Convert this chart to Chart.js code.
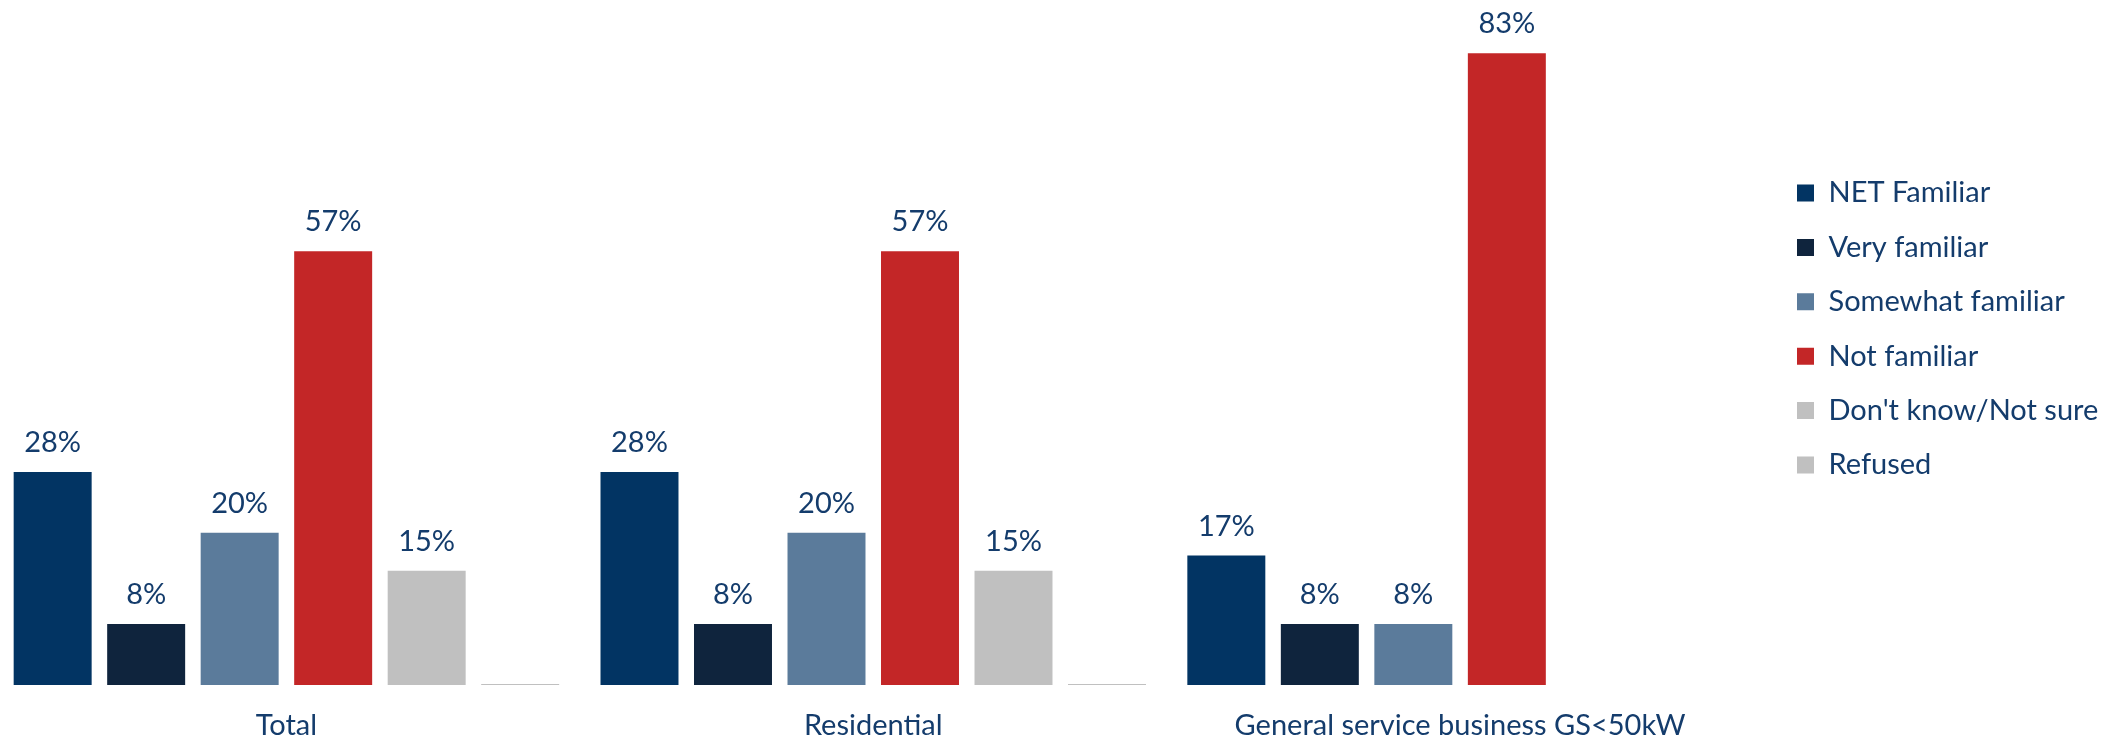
<!DOCTYPE html>
<html>
<head>
<meta charset="utf-8">
<script src="https://cdn.jsdelivr.net/npm/chart.js@4"></script>
<style>
  html, body { margin: 0; padding: 0; background: #ffffff; overflow: hidden; width: 2121px; height: 741px; }
  #wrap { position: absolute; left: -7px; top: 0; width: 2128px; height: 741px; }
</style>
</head>
<body>
<div id="wrap"><canvas id="c"></canvas></div>
<script>
// ---- data ----
const categories = ["Total", "Residential", "General service business GS<50kW"];
const seriesNames = ["NET Familiar", "Very familiar", "Somewhat familiar", "Not familiar", "Don't know/Not sure", "Refused"];
const netFamiliar      = [28, 28, 17];
const veryFamiliar     = [8, 8, 8];
const somewhatFamiliar = [20, 20, 8];
const notFamiliar      = [57, 57, 83];
const dontKnow         = [15, 15, null];
const refused          = [0, 0, null];

// ---- styles ----
const seriesColors = ["#023463", "#0F243D", "#5B7B9B", "#C32627", "#C0C0C0", "#C0C0C0"];
const textColor = "#143C6C";
const FONT = "Lato";

const seriesValues = [netFamiliar, veryFamiliar, somewhatFamiliar, notFamiliar, dontKnow, refused];

const datasets = seriesValues.map((vals, i) => ({
  label: seriesNames[i],
  data: vals,
  backgroundColor: seriesColors[i],
  borderWidth: 0,
  categoryPercentage: 0.956,
  barPercentage: 0.834,
  minBarLength: i === 5 ? 1 : 0
}));

const valueLabels = {
  id: 'valueLabels',
  afterDatasetsDraw(chart) {
    const ctx = chart.ctx;
    ctx.save();
    ctx.font = `29px ${FONT}`;
    ctx.fillStyle = textColor;
    ctx.textAlign = 'center';
    ctx.textBaseline = 'alphabetic';
    chart.data.datasets.forEach((ds, di) => {
      const meta = chart.getDatasetMeta(di);
      meta.data.forEach((bar, j) => {
        const v = ds.data[j];
        if (v === null || v === undefined || v === 0) return;
        ctx.fillText(v + '%', bar.x, bar.y - 20);
      });
    });
    ctx.restore();
  }
};

const legendPlace = {
  id: 'legendPlace',
  afterLayout(chart) {
    const lg = chart.legend;
    if (!lg) return;
    const targetLeft = 1778.6, targetTop = 153.1, boxW = 360;
    const dx = targetLeft - lg.left, dy = targetTop - lg.top;
    lg.left += dx; lg.top += dy; lg.bottom += dy;
    lg.right = lg.left + boxW;
    lg.width = boxW;
  }
};

new Chart(document.getElementById('c'), {
  type: 'bar',
  data: { labels: categories, datasets },
  options: {
    responsive: true,
    maintainAspectRatio: false,
    animation: false,
    layout: { padding: { left: 0, right: 67.5, top: 0, bottom: 1 } },
    scales: {
      x: {
        grid: { display: false, drawTicks: false },
        border: { display: false },
        ticks: {
          color: textColor,
          font: { family: FONT, size: 29, lineHeight: 1 },
          padding: 26,
          maxRotation: 0,
          autoSkip: false
        },
        afterFit(scale) { scale.height = 55; }
      },
      y: {
        display: false,
        min: 0,
        max: 90
      }
    },
    plugins: {
      legend: {
        position: 'right',
        align: 'start',
        maxWidth: 300,
        labels: {
          color: textColor,
          font: { family: FONT, size: 29 },
          boxWidth: 17,
          boxHeight: 17,
          padding: 25.4
        }
      },
      tooltip: { enabled: false }
    }
  },
  plugins: [valueLabels, legendPlace]
});
</script>
</body>
</html>
